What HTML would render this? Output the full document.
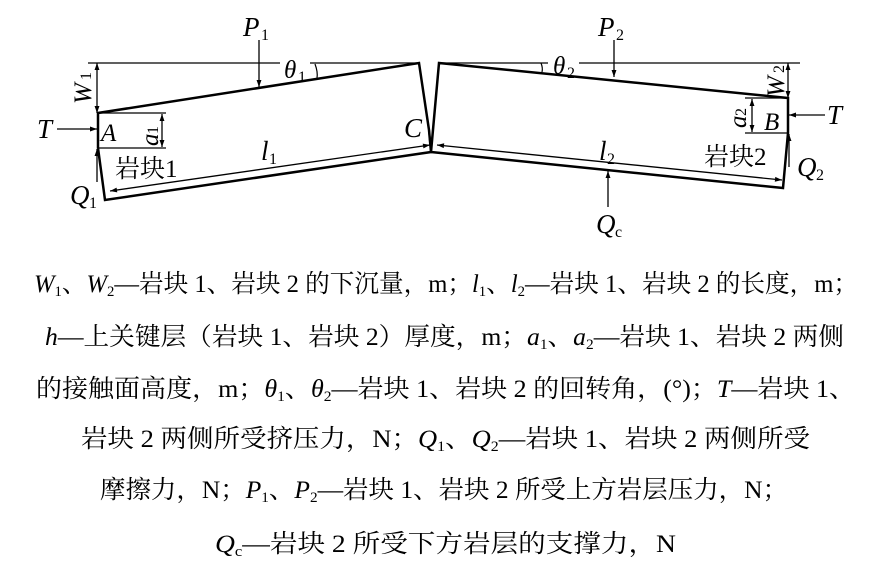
<!DOCTYPE html>
<html><head><meta charset="utf-8"><style>
html,body{margin:0;padding:0;background:#fff;}
svg{display:block;}
.t{font-family:"Liberation Serif","Noto Serif CJK SC","Noto Sans CJK SC",serif;font-size:25px;fill:#000;}
.i{font-style:italic;}
</style></head><body>
<svg width="872" height="573" viewBox="0 0 872 573" xmlns="http://www.w3.org/2000/svg">
<defs>
<marker id="a" viewBox="0 0 10 10" refX="10" refY="5" markerWidth="9" markerHeight="7" orient="auto-start-reverse" markerUnits="userSpaceOnUse"><path d="M0,1.5 L10,5 L0,8.5 z" fill="#000"/></marker>
</defs>
<g stroke="#000" fill="none">
<line x1="88" y1="63" x2="280" y2="63" stroke-width="1.3"/>
<line x1="310" y1="63" x2="420" y2="63" stroke-width="1.3"/>
<line x1="439" y1="63" x2="548" y2="63" stroke-width="1.3"/>
<line x1="579" y1="63" x2="800" y2="63" stroke-width="1.3"/>
<polyline points="98,148 98,113 419,63 429,130 431,152 105,200 98,148" stroke-width="2.5"/>
<polyline points="431,152 439,63 788,98 788,133 783,188 431,152" stroke-width="2.5"/>
<line x1="429" y1="130" x2="431" y2="152" stroke-width="2"/>
<line x1="98" y1="113" x2="166" y2="113" stroke-width="1.3"/>
<line x1="98" y1="148" x2="166" y2="148" stroke-width="1.3"/>
<line x1="745" y1="98" x2="788" y2="98" stroke-width="1.3"/>
<line x1="745" y1="133" x2="788" y2="133" stroke-width="1.3"/>
<path d="M315,64 Q318,72 317,78" stroke-width="1.2"/>
<path d="M541,63 Q543,68 542,72" stroke-width="1.2"/>
<g stroke-width="1.3">
<line x1="97" y1="63" x2="97" y2="113" marker-start="url(#a)" marker-end="url(#a)"/>
<line x1="162" y1="114" x2="162" y2="147" marker-start="url(#a)" marker-end="url(#a)"/>
<line x1="57" y1="129" x2="97" y2="129" marker-end="url(#a)"/>
<line x1="97" y1="182" x2="97" y2="149" marker-end="url(#a)"/>
<line x1="259" y1="40" x2="259" y2="87" marker-end="url(#a)"/>
<line x1="110" y1="191" x2="430" y2="145" marker-start="url(#a)" marker-end="url(#a)"/>
<line x1="788" y1="63" x2="788" y2="98" marker-start="url(#a)" marker-end="url(#a)"/>
<line x1="752" y1="99" x2="752" y2="132" marker-start="url(#a)" marker-end="url(#a)"/>
<line x1="825" y1="115" x2="789" y2="115" marker-end="url(#a)"/>
<line x1="789" y1="167" x2="789" y2="134" marker-end="url(#a)"/>
<line x1="614" y1="40" x2="614" y2="77" marker-end="url(#a)"/>
<line x1="437" y1="145" x2="782" y2="180" marker-start="url(#a)" marker-end="url(#a)"/>
<line x1="608" y1="207" x2="608" y2="171" marker-end="url(#a)"/>
</g>
</g>
<g class="t">
<text x="243" y="36" class="i" font-size="27">P</text><text x="261" y="40" font-size="16">1</text>
<text x="598" y="36" class="i" font-size="27">P</text><text x="616" y="40" font-size="16">2</text>
<text x="284" y="78" class="i">θ</text><text x="298" y="82" font-size="16">1</text>
<text x="553" y="74" class="i">θ</text><text x="567" y="78" font-size="16">2</text>
<text x="37" y="138" class="i" font-size="27">T</text>
<text x="827" y="124" class="i" font-size="27">T</text>
<text x="101" y="141" class="i">A</text>
<text x="764" y="130" class="i">B</text>
<text x="404" y="137" class="i" font-size="27">C</text>
<text x="261" y="160" class="i" font-size="27">l</text><text x="269" y="164" font-size="16">1</text>
<text x="599" y="160" class="i" font-size="27">l</text><text x="607" y="164" font-size="16">2</text>
<text x="115" y="177">岩块1</text>
<text x="704" y="165">岩块2</text>
<text x="70" y="204" class="i" font-size="27">Q</text><text x="89" y="208" font-size="16">1</text>
<text x="797" y="176" class="i" font-size="27">Q</text><text x="816" y="180" font-size="16">2</text>
<text x="596" y="233" class="i" font-size="27">Q</text><text x="615" y="237" font-size="16">c</text>
<text transform="translate(91,104) rotate(-90)" class="i">W</text><text transform="translate(91,80) rotate(-90)" font-size="16">1</text>
<text transform="translate(784,97) rotate(-90)" class="i">W</text><text transform="translate(784,73) rotate(-90)" font-size="16">2</text>
<text transform="translate(158,146) rotate(-90)" class="i">a</text><text transform="translate(158,134) rotate(-90)" font-size="16">1</text>
<text transform="translate(746,128) rotate(-90)" class="i">a</text><text transform="translate(746,116) rotate(-90)" font-size="16">2</text>
</g>
<g class="t">
<text x="34" y="292" textLength="824" lengthAdjust="spacingAndGlyphs"><tspan class="i">W</tspan><tspan font-size="15" dy="4">1</tspan><tspan dy="-4">、</tspan><tspan class="i">W</tspan><tspan font-size="15" dy="4">2</tspan><tspan dy="-4">—岩块 1、岩块 2 的下沉量，m；</tspan><tspan class="i">l</tspan><tspan font-size="15" dy="4">1</tspan><tspan dy="-4">、</tspan><tspan class="i">l</tspan><tspan font-size="15" dy="4">2</tspan><tspan dy="-4">—岩块 1、岩块 2 的长度，m；</tspan></text>
<text x="45" y="345" textLength="799" lengthAdjust="spacingAndGlyphs"><tspan class="i">h</tspan>—上关键层（岩块 1、岩块 2）厚度，m；<tspan class="i">a</tspan><tspan font-size="15" dy="4">1</tspan><tspan dy="-4">、</tspan><tspan class="i">a</tspan><tspan font-size="15" dy="4">2</tspan><tspan dy="-4">—岩块 1、岩块 2 两侧</tspan></text>
<text x="36" y="397" textLength="819" lengthAdjust="spacingAndGlyphs">的接触面高度，m；<tspan class="i">θ</tspan><tspan font-size="15" dy="4">1</tspan><tspan dy="-4">、</tspan><tspan class="i">θ</tspan><tspan font-size="15" dy="4">2</tspan><tspan dy="-4">—岩块 1、岩块 2 的回转角，(°)；</tspan><tspan class="i">T</tspan>—岩块 1、</text>
<text x="81" y="447" textLength="729" lengthAdjust="spacingAndGlyphs">岩块 2 两侧所受挤压力，N；<tspan class="i">Q</tspan><tspan font-size="15" dy="4">1</tspan><tspan dy="-4">、</tspan><tspan class="i">Q</tspan><tspan font-size="15" dy="4">2</tspan><tspan dy="-4">—岩块 1、岩块 2 两侧所受</tspan></text>
<text x="100" y="498" textLength="688" lengthAdjust="spacingAndGlyphs">摩擦力，N；<tspan class="i">P</tspan><tspan font-size="15" dy="4">1</tspan><tspan dy="-4">、</tspan><tspan class="i">P</tspan><tspan font-size="15" dy="4">2</tspan><tspan dy="-4">—岩块 1、岩块 2 所受上方岩层压力，N；</tspan></text>
<text x="215" y="552" textLength="461" lengthAdjust="spacingAndGlyphs"><tspan class="i">Q</tspan><tspan font-size="15" dy="4">c</tspan><tspan dy="-4">—岩块 2 所受下方岩层的支撑力，N</tspan></text>
</g>
</svg>
</body></html>
